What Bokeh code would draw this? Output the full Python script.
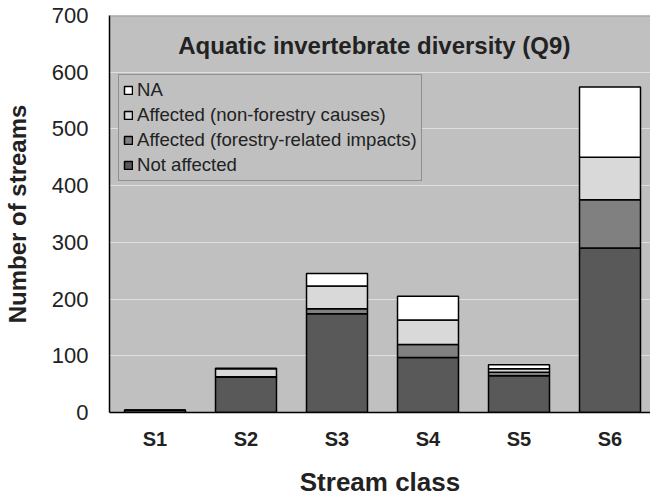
from bokeh.plotting import figure
from bokeh.models import Range1d, FixedTicker, Label, Legend, Span
from bokeh.embed import file_html
from bokeh.resources import INLINE

# ---- data ----
classes = ["S1", "S2", "S3", "S4", "S5", "S6"]
not_affected = [4, 62, 174, 97, 65, 290]
affected_forestry = [0, 1, 9, 23, 6, 85]
affected_non_forestry = [0, 14, 40, 43, 6, 75]
na_values = [0, 1, 22, 42, 7, 124]
y_ticks = [0, 100, 200, 300, 400, 500, 600, 700]
series_names = ["Not affected", "Affected (forestry-related impacts)",
                "Affected (non-forestry causes)", "NA"]
series_colors = ["#595959", "#808080", "#d9d9d9", "#ffffff"]

FONT = "Liberation Sans"
positions = list(range(1, len(classes) + 1))
source = dict(x=positions, s0=not_affected, s1=affected_forestry,
              s2=affected_non_forestry, s3=na_values)

p = figure(width=650, height=500,
           x_range=Range1d(0.5, 6.445), y_range=Range1d(0, 700),
           output_backend="svg", toolbar_location=None,
           min_border_left=109, min_border_right=0,
           min_border_top=15, min_border_bottom=88,
           background_fill_color="#c0c0c0", border_fill_color="white",
           outline_line_color=None)

renderers = p.vbar_stack(["s0", "s1", "s2", "s3"], x="x", width=0.67, source=source,
                         color=series_colors, line_color="black", line_width=1.5)
for r, c in zip(renderers, series_colors):
    r.glyph.fill_color = c
    r.glyph.line_color = "black"

# grid
p.xgrid.grid_line_color = None
p.ygrid.grid_line_color = "#e0e0e0"
p.ygrid.grid_line_width = 1.2
p.ygrid.ticker = FixedTicker(ticks=y_ticks)
p.add_layout(Span(location=y_ticks[-1], dimension="width",
                  line_color="#9a9a9a", line_width=2))

# y axis
p.yaxis.ticker = FixedTicker(ticks=y_ticks)
p.yaxis.axis_label = "Number of streams"
p.yaxis.axis_label_text_font = FONT
p.yaxis.axis_label_text_font_size = "24px"
p.yaxis.axis_label_text_font_style = "bold"
p.yaxis.axis_label_text_color = "#222222"
p.yaxis.axis_label_standoff = 18
p.yaxis.major_label_text_font = FONT
p.yaxis.major_label_text_font_size = "22px"
p.yaxis.major_label_text_color = "#222222"
p.yaxis.major_label_standoff = 21
p.yaxis.major_tick_in = 0
p.yaxis.major_tick_out = 0
p.yaxis.minor_tick_line_color = None
p.yaxis.axis_line_color = "black"
p.yaxis.axis_line_width = 1.5

# x axis
p.xaxis.ticker = FixedTicker(ticks=positions)
p.xaxis.major_label_overrides = {pos: c for pos, c in zip(positions, classes)}
p.xaxis.axis_label = "Stream class"
p.xaxis.axis_label_text_font = FONT
p.xaxis.axis_label_text_font_size = "26px"
p.xaxis.axis_label_text_font_style = "bold"
p.xaxis.axis_label_text_color = "#222222"
p.xaxis.axis_label_standoff = 14
p.xaxis.major_label_text_font = FONT
p.xaxis.major_label_text_font_size = "20px"
p.xaxis.major_label_text_font_style = "bold"
p.xaxis.major_label_text_color = "#222222"
p.xaxis.major_label_standoff = 15
p.xaxis.major_tick_in = 0
p.xaxis.major_tick_out = 0
p.xaxis.minor_tick_line_color = None
p.xaxis.axis_line_color = "black"
p.xaxis.axis_line_width = 1.5

# title inside plot area
title = Label(x=3.41, y=647, text="Aquatic invertebrate diversity (Q9)",
              text_align="center", text_baseline="middle",
              text_font=FONT, text_font_size="24px", text_font_style="bold",
              text_color="#222222")
p.add_layout(title)

# legend (reverse order: NA on top)
items = [(name, [r]) for name, r in zip(series_names, renderers)][::-1]
legend = Legend(items=items, location=(9, 231),
                background_fill_color="#c0c0c0", background_fill_alpha=1,
                border_line_color="#606060", border_line_width=1,
                label_text_font=FONT, label_text_font_size="18.6px",
                label_text_color="#222222",
                glyph_width=10, glyph_height=10, label_standoff=4,
                label_height=21, spacing=3, padding=4, margin=0)
p.add_layout(legend, "center")

html = file_html(p, INLINE)
open("out.html", "w").write(html)
